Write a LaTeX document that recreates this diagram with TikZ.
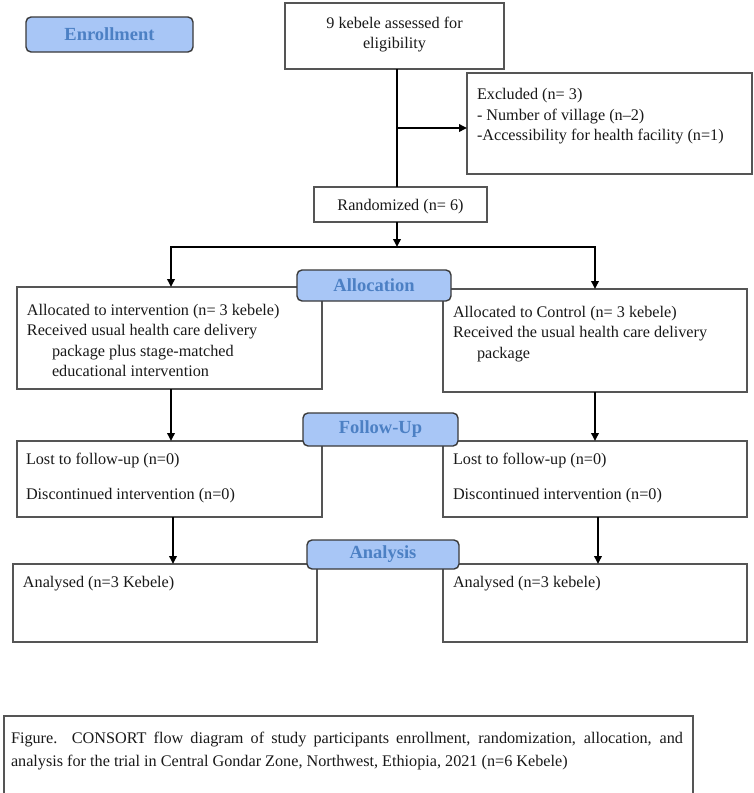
\documentclass[tikz,border=0pt]{standalone}
\usepackage{fontspec}
\setmainfont{Liberation Serif}
\usetikzlibrary{arrows.meta}
\definecolor{boxgray}{HTML}{555555}
\definecolor{lblfill}{HTML}{A8C6F6}
\definecolor{lbltext}{HTML}{4C80C4}
\definecolor{lbldraw}{HTML}{3A3A3A}
\tikzset{
  box/.style={draw=boxgray, line width=1.3pt, inner sep=0pt, outer sep=0pt, fill=white, anchor=north west},
  lbl/.style={draw=lbldraw, line width=1.4pt, fill=lblfill, rounded corners=5pt, inner sep=0pt, outer sep=0pt,
    text=lbltext, font=\fontsize{18.5}{22}\selectfont\bfseries},
  txt/.style={anchor=base west, inner sep=0pt, outer sep=0pt, font=\fontsize{16.2}{20}\selectfont, text=black!90},
  ctxt/.style={txt, anchor=base},
  conn/.style={draw=black, line width=1.8pt},
  arr/.style={conn, -{Triangle[length=8pt,width=7.5pt]}}
}
\begin{document}
\begin{tikzpicture}[x=1pt,y=-1pt]
\useasboundingbox (0,0) rectangle (754,793);
\fill[white] (0,0) rectangle (754,793);
% boxes
\node[box, minimum width=219pt, minimum height=66pt] (top) at (285,3) {};
\node[box, minimum width=285pt, minimum height=101pt] (excl) at (467,73) {};
\node[box, minimum width=173pt, minimum height=35pt] (rand) at (314,187) {};
\node[box, minimum width=305pt, minimum height=102pt] (allocL) at (17,287) {};
\node[box, minimum width=304pt, minimum height=103pt] (allocR) at (443,289) {};
\node[box, minimum width=305pt, minimum height=76pt] (fuL) at (17,441) {};
\node[box, minimum width=304pt, minimum height=76pt] (fuR) at (443,441) {};
\node[box, minimum width=304pt, minimum height=78pt] (anL) at (13,564) {};
\node[box, minimum width=304pt, minimum height=78pt] (anR) at (443,564) {};
\node[box, minimum width=689pt, minimum height=90pt] (cap) at (4,716) {};
% connectors
\coordinate (v) at (397,0);
\coordinate (ej) at (397,128);
\coordinate (split) at (397,247);
\draw[conn] (top.south -| v) -- (rand.north -| v);
\draw[arr] (ej) -- (ej -| excl.west);
\draw[arr] (rand.south -| v) -- (split);
\draw[arr] (split) -| ([xshift=1.5pt]allocL.north);
\draw[arr] (split) -| (allocR.north);
\draw[arr] ([xshift=1.5pt]allocL.south) -- ([xshift=1.5pt]allocL.south |- fuL.north);
\draw[arr] (allocR.south) -- (allocR.south |- fuR.north);
\draw[arr] ([xshift=3.5pt]fuL.south) -- ([xshift=3.5pt]fuL.south |- anL.north);
\draw[arr] ([xshift=3pt]fuR.south) -- ([xshift=3pt]fuR.south |- anR.north);
% stage labels
\node[lbl, minimum width=167pt, minimum height=35pt] (lenr) at (109.5,34.5) {Enrollment};
\node[lbl, minimum width=154pt, minimum height=31pt] (lall) at (374,285.5) {Allocation};
\node[lbl, minimum width=155pt, minimum height=33pt] (lfu) at (380.5,429.5) {Follow-Up};
\node[lbl, minimum width=152pt, minimum height=29pt] (lan) at (383,554.5) {Analysis};
% texts
\node[ctxt] (t1) at (394.5,28) {9 kebele assessed for};
\node[ctxt] (t2) at (394.5,48) {eligibility};
\node[txt] (e1) at (477,99) {Excluded (n= 3)};
\node[txt] (e2) at (477,120) {- Number of village (n–2)};
\node[txt] (e3) at (477,140) {-Accessibility for health facility (n=1)};
\node[ctxt] (r1) at (400.5,210) {Randomized (n= 6)};
\node[txt] (al1) at (27,315) {Allocated to intervention (n= 3 kebele)};
\node[txt] (al2) at (27,335.5) {Received usual health care delivery};
\node[txt] (al3) at (52,356) {package plus stage-matched};
\node[txt] (al4) at (52,376.5) {educational intervention};
\node[txt] (ar1) at (453,317) {Allocated to Control (n= 3 kebele)};
\node[txt] (ar2) at (453,337.5) {Received the usual health care delivery};
\node[txt] (ar3) at (477,358) {package};
\node[txt] (fl1) at (26,464) {Lost to follow-up (n=0)};
\node[txt] (fl2) at (26,499) {Discontinued intervention (n=0)};
\node[txt] (fr1) at (453,464) {Lost to follow-up (n=0)};
\node[txt] (fr2) at (453,499) {Discontinued intervention (n=0)};
\node[txt] (nl1) at (23,587) {Analysed (n=3 Kebele)};
\node[txt] (nr1) at (453,587) {Analysed (n=3 kebele)};
\node[txt] (c1) at (11,743) {\makebox[672pt][s]{Figure. CONSORT flow diagram of study participants enrollment, randomization, allocation, and}};
\node[txt] (c2) at (11,766) {analysis for the trial in Central Gondar Zone, Northwest, Ethiopia, 2021 (n=6 Kebele)};
\end{tikzpicture}
\end{document}
